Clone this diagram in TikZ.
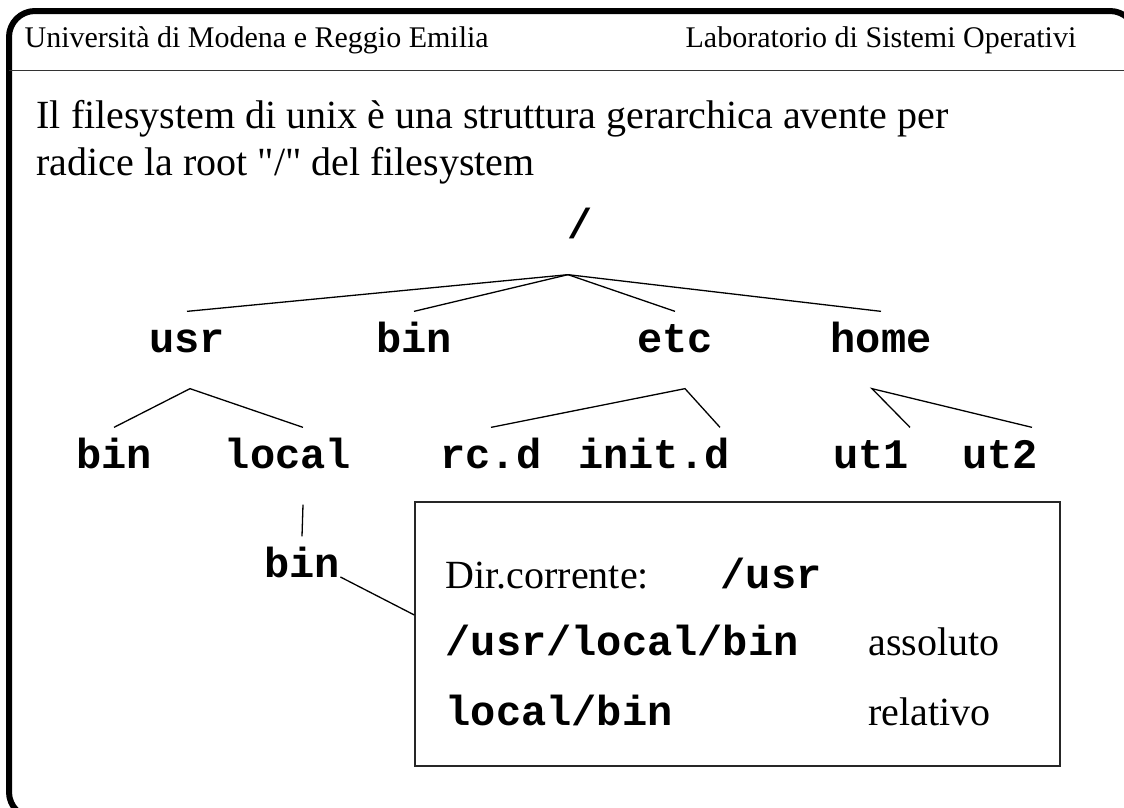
\documentclass[tikz,border=0pt]{standalone}
\usepackage{fontspec}
\setmainfont{Liberation Serif}
\setmonofont{Liberation Mono}
\newfontfamily\straightquote{Liberation Serif}
\usetikzlibrary{positioning}

\begin{document}
\begin{tikzpicture}[
            x = 1pt, y = -1pt, % pixel-like coordinates
            line width = 1.3pt, % line style
            head/.style = {font=\fontsize{30}{36}\selectfont, inner sep=0pt},
            plain/.style = {font=\fontsize{40}{48}\selectfont, inner sep=0pt, anchor=base west},
            code/.style = {font=\fontsize{42}{48}\selectfont\ttfamily\bfseries, inner sep=0pt, anchor=base west},
            dir/.style = {font=\fontsize{42}{48}\selectfont\ttfamily\bfseries,
                text height=28pt, text depth=24pt, inner xsep=0pt, inner ysep=12pt, anchor=base}
        ]

        \useasboundingbox (0,0) rectangle (1124,807);

        % slide frame and header
        \draw[line width=6pt, rounded corners=26pt] (9,11) rectangle (1136,818);
        \draw[line width=1pt, black!80] (9,70) -- (1124,70);
        \node[head, anchor=base west] (uni) at (24,47) {Università di Modena e Reggio Emilia};
        \node[head, anchor=base east] (lab) at (1077,47) {Laboratorio di Sistemi Operativi};

        \node[plain] (intro1) at (36,128) {Il filesystem di unix è una struttura gerarchica avente per};
        \node[plain] (intro2) at (36,175) {radice la root {\straightquote"/"} del filesystem};

        % the tree
        \node[dir] (root) at (580,238) {/};
        \node[dir] (usr) at (187,352) {usr};
        \node[dir] (bin) at (414,352) {bin};
        \node[dir] (etc) at (675,352) {etc};
        \node[dir] (home) at (881,352) {home};
        \node[dir] (usrbin) at (114,468) {bin};
        \node[dir] (local) at (288,468) {local};
        \node[dir] (rcd) at (491,468) {rc.d};
        \node[dir] (initd) at (654,468) {init.d};
        \node[dir] (ut1) at (871,468) {ut1};
        \node[dir] (ut2) at (1000,468) {ut2};
        \node[dir] (localbin) at (302,577) {bin};

        \draw ([xshift=-12pt]root.south) -- (usr.north);
        \draw ([xshift=-12pt]root.south) -- (bin.north);
        \draw ([xshift=-12pt]root.south) -- (etc.north);
        \draw ([xshift=-12pt]root.south) -- (home.north);

        \draw (usrbin.north) -- ([xshift=3pt]usr.south) -- ([xshift=15pt]local.north);
        \draw (rcd.north) -- ([xshift=10pt]etc.south) -- ([xshift=66pt]initd.north);
        \draw ([xshift=39pt]ut1.north) -- ([xshift=-9pt]home.south) -- ([xshift=32pt]ut2.north);
        \draw ([xshift=15pt]local.south) -- (localbin.north);

        % path examples
        \node[draw, black!85, minimum width=645pt, minimum height=264pt, inner sep=0pt]
            (cwdbox) at (737.5,634) {};
        \draw (localbin.base east) -- ([yshift=19pt]cwdbox.west);

        \node[plain] (cwd) at (445,588) {Dir.corrente:};
        \node[code] (cwdpath) at (720,588) {/usr};
        \node[code] (abspath) at (445,655) {/usr/local/bin};
        \node[plain] (abslabel) at (868,655) {assoluto};
        \node[code] (relpath) at (445,725) {local/bin};
        \node[plain] (rellabel) at (868,725) {relativo};

  \end{tikzpicture}
\end{document}
